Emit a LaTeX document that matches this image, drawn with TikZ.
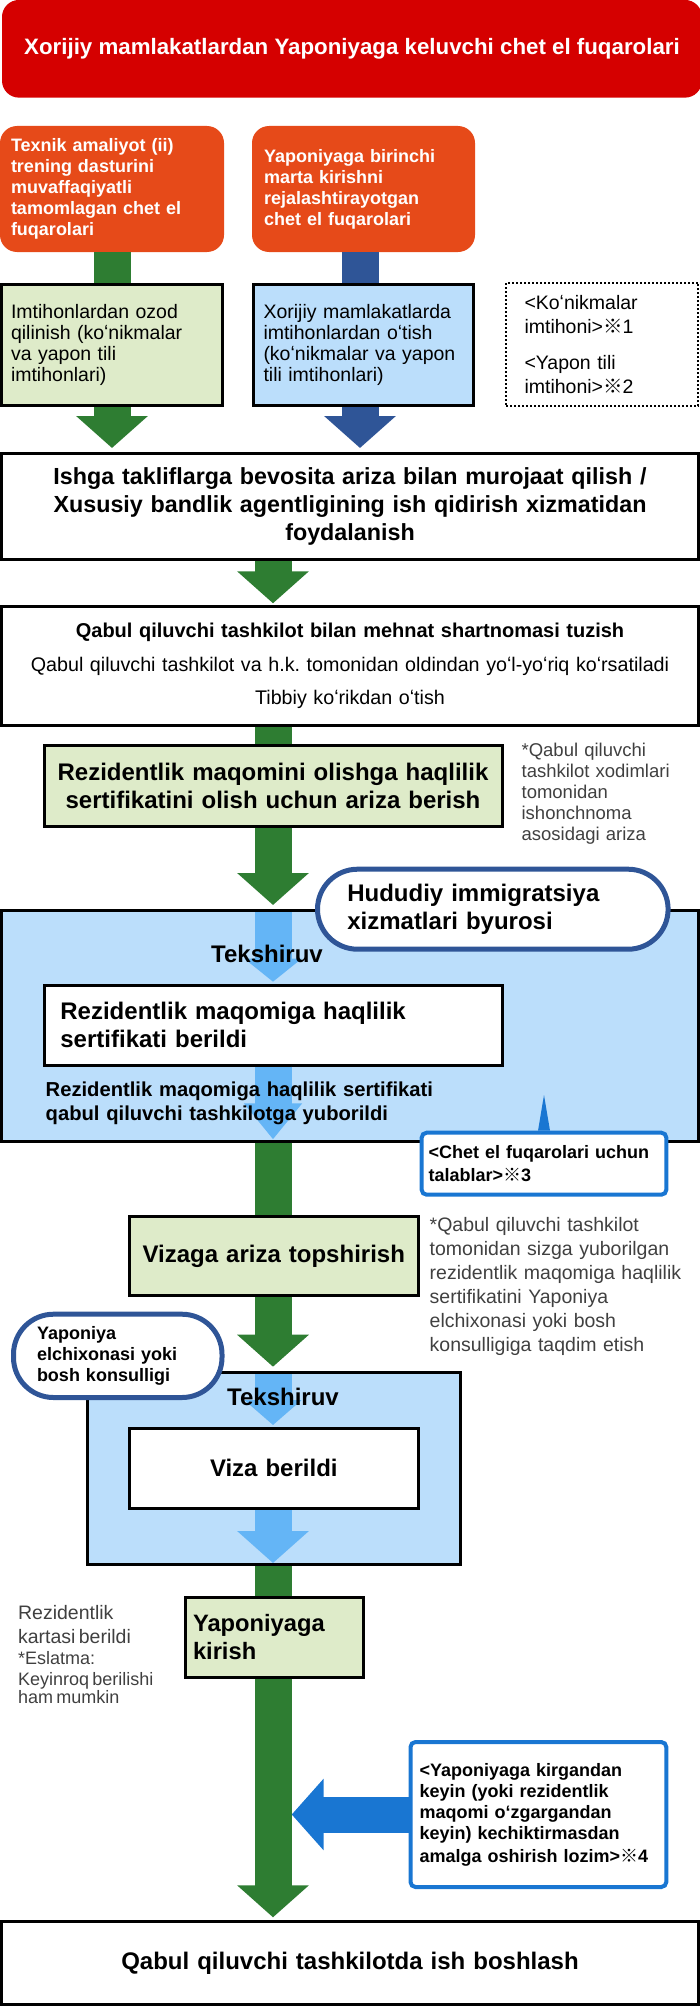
\documentclass[tikz,border=0pt]{standalone}
\usepackage{fontspec}
\setmainfont{Liberation Sans}
\newfontfamily\cjk{Noto Sans CJK JP}
\usetikzlibrary{arrows.meta}
\frenchspacing
\hyphenpenalty=10000
\exhyphenpenalty=10000

\definecolor{titlered}{HTML}{D50000}
\definecolor{startorange}{HTML}{E64A19}
\definecolor{arrowgreen}{HTML}{2E7D32}
\definecolor{navyblue}{HTML}{2F5597}
\definecolor{boxgreen}{HTML}{DEEBC9}
\definecolor{boxblue}{HTML}{BBDEFB}
\definecolor{lightarrow}{HTML}{64B5F6}
\definecolor{callblue}{HTML}{1976D2}
\definecolor{notegray}{HTML}{404040}

\newcommand{\setfs}[2]{\fontsize{#1pt}{#2pt}\selectfont}
\newcommand{\refmark}{{\cjk ※}}

\begin{document}
\begin{tikzpicture}[x=1pt,y=-1pt,
titlebox/.style={fill=titlered, rounded corners=17pt, minimum width=700pt, minimum height=97.7pt, inner sep=0pt, text=white, font=\setfs{22.3}{26}\bfseries},
orangebox/.style={fill=startorange, rounded corners=17pt, minimum height=126pt, text=white, align=left, inner ysep=0pt, font=\setfs{18}{21}\bfseries},
greenbox/.style={draw=black, line width=3pt, fill=boxgreen, inner ysep=0pt},
bluebox/.style={draw=black, line width=3pt, fill=boxblue, inner ysep=0pt},
whitebox/.style={draw=black, line width=3pt, fill=white, inner ysep=0pt},
dottedbox/.style={draw=black, line width=2pt, dash pattern=on 2pt off 2pt, inner ysep=0pt, align=left},
pillnode/.style={draw=navyblue, line width=5pt, fill=white, rounded corners=40pt, align=left, inner ysep=0pt},
callnode/.style={draw=callblue, line width=4pt, fill=white, rounded corners=5pt, align=left, inner ysep=0pt},
notetext/.style={anchor=west, inner sep=0pt, align=left, text=notegray},
greenshaft/.style={draw=arrowgreen, line width=37pt},
greenarrow/.style={greenshaft, -{Triangle[width=70pt,length=32pt]}},
navyshaft/.style={draw=navyblue, line width=37pt},
navyarrow/.style={navyshaft, -{Triangle[width=70pt,length=32pt]}},
lightshaft/.style={draw=lightarrow, line width=37pt},
bluearrow/.style={draw=callblue, line width=36pt, -{Triangle[width=70pt,length=32pt]}},
]
\useasboundingbox (0,0) rectangle (700,2007);

%Nodes
\node[titlebox] (title) at (352,48.8) {Xorijiy mamlakatlardan Yaponiyaga keluvchi chet el fuqarolari};

\node[orangebox, minimum width=224pt, text width=202pt, inner xsep=11pt] (trainee) at (112,189) {Texnik amaliyot (ii)\\ trening dasturini\\ muvaffaqiyatli\\ tamomlagan chet el\\ fuqarolari};
\node[orangebox, text width=199pt, inner xsep=12pt] (newcomer) at (363.5,189) {Yaponiyaga birinchi\\ marta kirishni\\ rejalashtirayotgan\\ chet el fuqarolari};

\node[greenbox, minimum height=121.6pt, text width=202pt, inner xsep=9.5pt, align=left, font=\setfs{19.5}{21}] (exempt) at (112,345) {Imtihonlardan ozod\\ qilinish (koʻnikmalar\\ va yapon tili\\ imtihonlari)};
\node[bluebox, minimum height=121.6pt, text width=200pt, inner xsep=10pt, align=left, font=\setfs{19.5}{21}] (abroad) at (363.5,345) {Xorijiy mamlakatlarda\\ imtihonlardan oʻtish\\ (koʻnikmalar va yapon\\ tili imtihonlari)};
\node[dottedbox, minimum height=123.6pt, text width=155pt, inner xsep=18.5pt, font=\setfs{19.5}{24}] (tests) at (602,344.5) {<Koʻnikmalar\\ imtihoni>\refmark 1\\[12.6pt] <Yapon tili\\ imtihoni>\refmark 2};

\node[whitebox, minimum height=106pt, text width=660pt, inner xsep=18.5pt, align=center, font=\setfs{23.3}{28}\bfseries] (jobapply) at (350,506.2) {Ishga takliflarga bevosita ariza bilan murojaat qilish /\\ Xususiy bandlik agentligining ish qidirish xizmatidan\\ foydalanish};
\node[whitebox, minimum height=118.7pt, text width=660pt, inner xsep=18.5pt, align=center, font=\setfs{19.7}{33.6}] (contract) at (350,665.85) {{\bfseries\setfs{20}{33.6}Qabul qiluvchi tashkilot bilan mehnat shartnomasi tuzish}\\ Qabul qiluvchi tashkilot va h.k. tomonidan oldindan yoʻl-yoʻriq koʻrsatiladi\\ Tibbiy koʻrikdan oʻtish};

\node[greenbox, minimum height=81pt, text width=452pt, inner xsep=3pt, align=center, font=\setfs{24}{28}\bfseries] (apply) at (273,786.3) {Rezidentlik maqomini olishga haqlilik\\ sertifikatini olish uchun ariza berish};
\node[notetext, text width=175pt, font=\setfs{18.5}{21}] (proxynote) at (521.4,793.9) {*Qabul qiluvchi\\ tashkilot xodimlari\\ tomonidan\\ ishonchnoma\\ asosidagi ariza};

\node[bluebox, minimum width=697pt, minimum height=230.4pt] (exam1) at (350,1026) {};
\node[whitebox, minimum width=458pt, minimum height=79.7pt, text width=425.2pt, inner xsep=16.4pt, align=left, font=\setfs{24}{28}\bfseries] (certissued) at (273,1025.35) {Rezidentlik maqomiga haqlilik\\ sertifikati berildi};

\node[greenbox, minimum height=79.3pt, text width=270pt, inner xsep=9.3pt, align=center, font=\setfs{24}{28}\bfseries] (visaapply) at (273.8,1256.15) {Vizaga ariza topshirish};
\node[notetext, text width=265pt, font=\setfs{19.5}{24.1}] (visanote) at (429.5,1286.35) {*Qabul qiluvchi tashkilot\\ tomonidan sizga yuborilgan\\ rezidentlik maqomiga haqlilik\\ sertifikatini Yaponiya\\ elchixonasi yoki bosh\\ konsulligiga taqdim etish};

\node[bluebox, minimum width=373.3pt, minimum height=192pt] (exam2) at (273.85,1468.5) {};
\node[whitebox, minimum height=80.3pt, text width=270pt, inner xsep=9.3pt, align=center, font=\setfs{24}{28}\bfseries] (visaissued) at (273.8,1468.35) {Viza berildi};

\node[greenbox, minimum height=80pt, text width=162.7pt, inner xsep=7.5pt, align=left, font=\setfs{23.7}{28}\bfseries] (entry) at (274.35,1637.5) {Yaponiyaga\\ kirish};
\node[notetext, text width=160pt] (cardnote) at (17.9,1654.5) {\setfs{19.5}{24}Rezidentlik\\ kartasi berildi\par\setfs{18}{21}*Eslatma:\\ Keyinroq berilishi\\ ham mumkin};

\node[callnode, minimum height=145pt, text width=237.8pt, inner xsep=9pt, font=\setfs{18}{21}\bfseries] (entrynotice) at (538.4,1814.5) {<Yaponiyaga kirgandan\\ keyin (yoki rezidentlik\\ maqomi oʻzgargandan\\ keyin) kechiktirmasdan\\[2pt] amalga oshirish lozim>\refmark 4};

\node[whitebox, minimum height=83pt, text width=660pt, inner xsep=18.5pt, align=center, font=\setfs{24}{28}\bfseries] (startwork) at (350,1963) {Qabul qiluvchi tashkilotda ish boshlash};

\coordinate (col) at (273,0);
\coordinate (shaftedge) at (291.7,1814.5);
\coordinate (reqtip) at (544,1095);

%Lines
\draw[greenshaft] (trainee.south) -- (exempt.north);
\draw[greenarrow, shorten >=3.7pt] (exempt.south) -- (exempt.south |- jobapply.north);
\draw[navyshaft] ([xshift=-3.5pt]newcomer.south) -- ([xshift=-3.5pt]abroad.north);
\draw[navyarrow, shorten >=3.7pt] ([xshift=-3.5pt]abroad.south) -- ([xshift=-3.5pt]abroad.south |- jobapply.north);
\draw[greenarrow, shorten >=1.7pt] (col |- jobapply.south) -- (col |- contract.north);
\draw[greenshaft] (col |- contract.south) -- (col |- apply.north);
\draw[greenarrow, shorten >=4.3pt] (col |- apply.south) -- (col |- exam1.north);
\draw[lightshaft, shorten <=3pt, shorten >=2.3pt, -{Triangle[width=56pt,length=23pt]}] (col |- exam1.north) -- (col |- certissued.north);
\draw[lightshaft, shorten >=3.4pt, -{Triangle[width=56pt,length=36pt]}] (col |- certissued.south) -- (col |- exam1.south);
\draw[greenshaft] (col |- exam1.south) -- (col |- visaapply.north);
\draw[greenarrow, shorten >=4.3pt] (col |- visaapply.south) -- (col |- exam2.north);
\draw[lightshaft, shorten <=3pt, shorten >=1.7pt, -{Triangle[width=56pt,length=25pt]}] (col |- exam2.north) -- (col |- visaissued.north);
\draw[lightshaft, shorten >=3pt, -{Triangle[width=70pt,length=32pt]}] (col |- visaissued.south) -- (col |- exam2.south);
\draw[greenshaft] (col |- exam2.south) -- (col |- entry.north);
\draw[greenarrow, shorten >=2.7pt] (col |- entry.south) -- (col |- startwork.north);
\draw[bluearrow] (entrynotice.west) -- (shaftedge);

%Labels over the arrows
\node[inner sep=0pt, font=\setfs{24}{28}\bfseries] (check1) at (267,954) {Tekshiruv};
\node[anchor=west, inner sep=0pt, align=left, text width=420pt, font=\setfs{20.2}{23.3}\bfseries] (certsent) at (45.5,1103.3) {Rezidentlik maqomiga haqlilik sertifikati\\ qabul qiluvchi tashkilotga yuborildi};
\node[inner sep=0pt, font=\setfs{24}{28}\bfseries] (check2) at (283,1396.7) {Tekshiruv};

%Callouts
\node[pillnode, minimum height=80pt, text width=291pt, inner xsep=29.8pt, font=\setfs{24}{28}\bfseries] (bureau) at (492.8,909.2) {Hududiy immigratsiya\\ xizmatlari byurosi};
\node[callnode, minimum height=62pt, text width=230.7pt, inner xsep=7pt, font=\setfs{18}{23.3}\bfseries] (requirements) at (544,1163.7) {<Chet el fuqarolari uchun\\ talablar>\refmark 3};
\fill[callblue] ([xshift=-6pt]requirements.north) -- (reqtip) -- ([xshift=6pt]requirements.north) -- cycle;
\node[pillnode, minimum height=83.3pt, text width=161.5pt, inner xsep=23.5pt, font=\setfs{18}{21}\bfseries] (embassy) at (117.75,1355.85) {Yaponiya\\ elchixonasi yoki\\ bosh konsulligi};

\end{tikzpicture}
\end{document}
